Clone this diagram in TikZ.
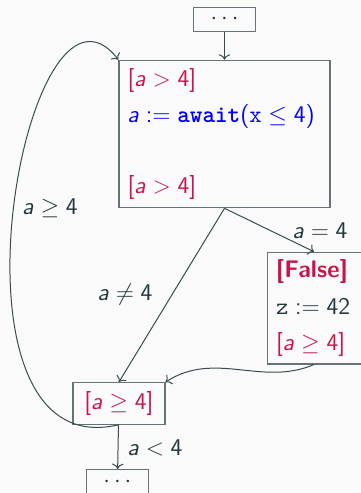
\documentclass[tikz,border=0pt]{standalone}
\usepackage{amssymb}
\usepackage{xcolor}
\usetikzlibrary{positioning, arrows.meta}
\renewcommand{\familydefault}{\sfdefault}
\DeclareSymbolFont{operators}{OT1}{cmss}{m}{n}
\DeclareSymbolFont{sfletters}{OT1}{cmss}{m}{sl}
\DeclareMathSymbol{a}{\mathalpha}{sfletters}{`a}
\definecolor{bgPaper}{HTML}{FAFAFA}
\definecolor{darkTeal}{HTML}{23373B}
\definecolor{guardRed}{HTML}{C8144A}
\definecolor{stmtBlue}{HTML}{0000FF}

\begin{document}
\begin{tikzpicture}[
  x=0.5pt, y=-0.5pt,
  every node/.style={font=\fontsize{12}{17.7}\selectfont, text=darkTeal},
  blk/.style={rectangle, draw=darkTeal!70, line width=0.6pt, inner sep=0pt},
  dotsbox/.style={blk, minimum width=31pt, minimum height=12.2pt},
  stmtbox/.style={blk, align=left, inner xsep=4.3pt, inner ysep=0pt},
  flow/.style={->, draw=darkTeal!90, line width=0.5pt},
  lbl/.style={inner sep=1pt},
]
  \useasboundingbox (0,0) rectangle (360,493);
  \fill[bgPaper] (0,0) rectangle (360,493);

  % blocks
  \node[dotsbox] at (224.5,19.5) (top) {$\cdots$};
  \node[stmtbox, text width=96.9pt, minimum height=73.7pt] at (224.5,134) (await)
    {\textcolor{guardRed}{$[a > 4]$}\\
     \textcolor{stmtBlue}{$a \mathrel{:=} \texttt{\bfseries await}(\texttt{x} \leq 4)$}\\[17.7pt]
     \textcolor{guardRed}{$[a > 4]$}};
  \node[stmtbox, text width=38.6pt, minimum height=55.8pt, anchor=north west,
        font=\fontsize{12}{18.4}\selectfont] at (267,251.7) (false)
    {\textcolor{guardRed}{\textbf{[False]}}\\
     $\mathtt{z} \mathrel{:=} 42$\\
     \textcolor{guardRed}{$[a \geq 4]$}};
  \node[blk, minimum width=46pt, minimum height=20.7pt] at (118.9,403.4) (join)
    {\textcolor{guardRed}{$[a \geq 4]$}};
  \node[dotsbox, anchor=north] at (117.4,469) (bot) {$\cdots$};

  % edges
  \draw[flow] (top) -- (await);
  \draw[flow] (await.south) -- (false.north -| 314,0);
  \draw[flow] (await.south) -- (join.north);
  \draw[flow] (false.south -| 314,0) .. controls (262,387) and (215,350) .. (join.north east);
  \draw[flow] (join.south) .. controls (-70,470) and (25,-60) .. (await.north west);
  \draw[flow] (join) -- (bot);

  % labels
  \node[lbl] at (320,231) (lblEq) {$a = 4$};
  \node[lbl] at (125,294) (lblNeq) {$a \neq 4$};
  \node[lbl] at (50,208) (lblGeq) {$a \geq 4$};
  \node[lbl] at (155,448) (lblLt) {$a < 4$};
\end{tikzpicture}
\end{document}
